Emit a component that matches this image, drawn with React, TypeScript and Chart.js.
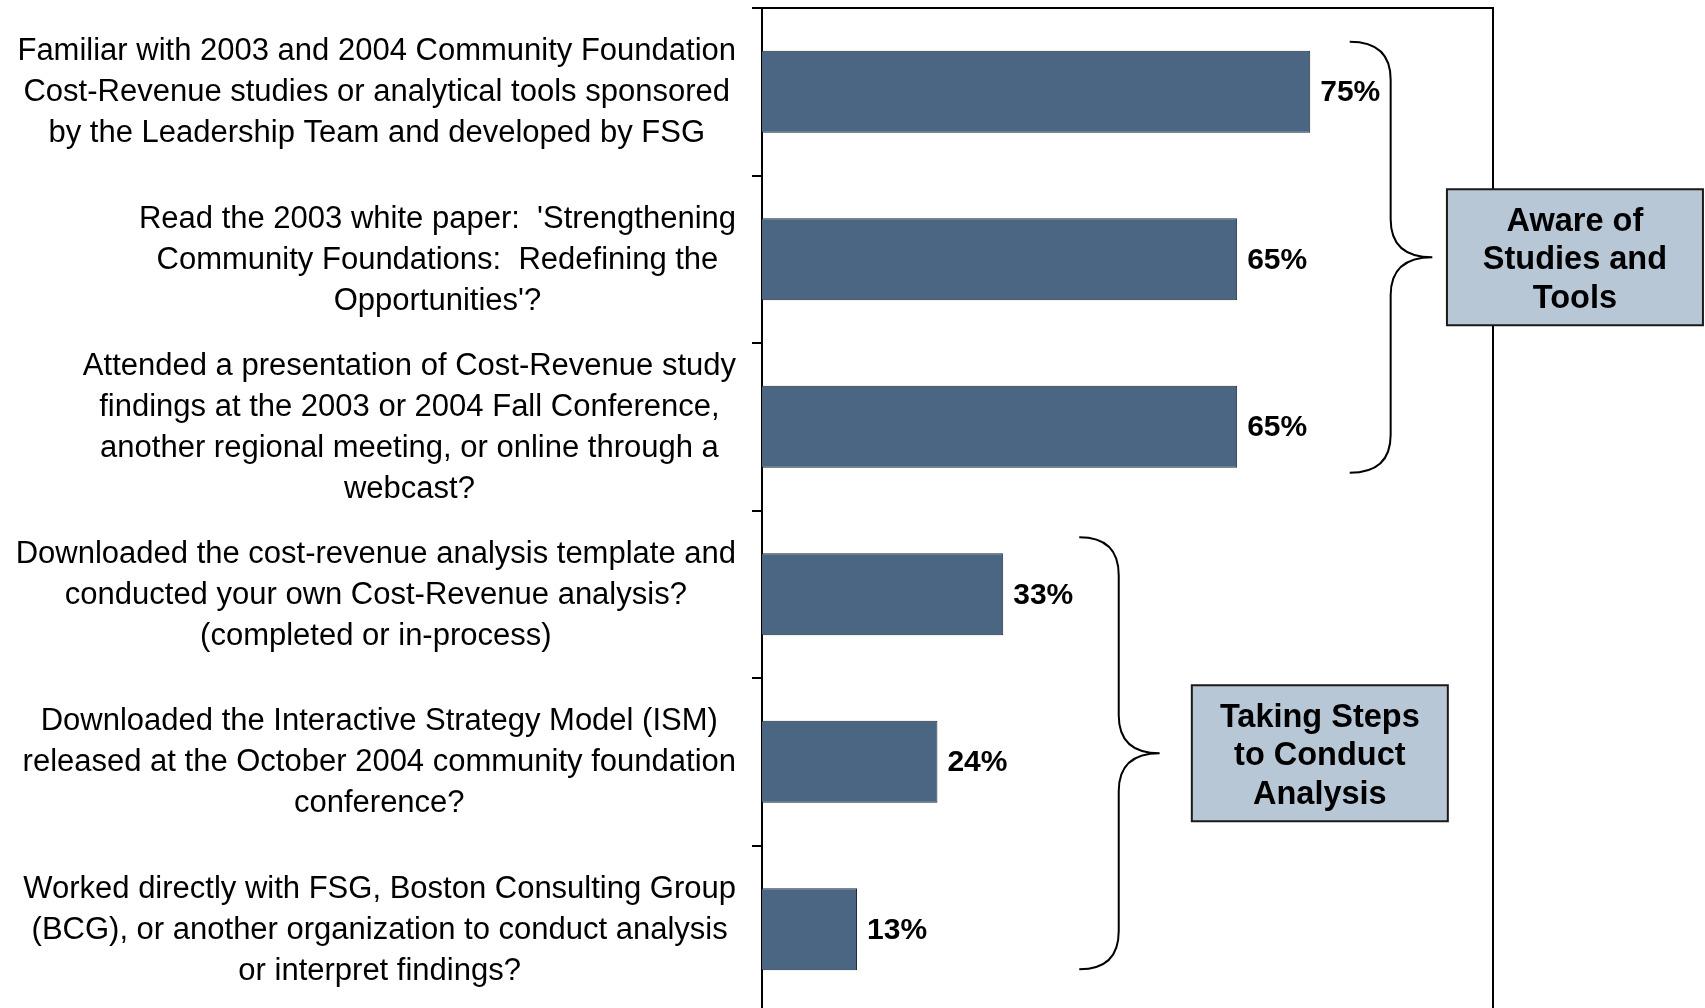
import React, { useEffect, useRef } from 'react';
import { Chart, registerables } from 'chart.js';

Chart.register(...registerables);

const categories: string[][] = [
  ['Familiar with 2003 and 2004 Community Foundation', 'Cost-Revenue studies or analytical tools sponsored', 'by the Leadership Team and developed by FSG'],
  ["Read the 2003 white paper:  'Strengthening", 'Community Foundations:  Redefining the', "Opportunities'?"],
  ['Attended a presentation of Cost-Revenue study', 'findings at the 2003 or 2004 Fall Conference,', 'another regional meeting, or online through a', 'webcast?'],
  ['Downloaded the cost-revenue analysis template and', 'conducted your own Cost-Revenue analysis?', '(completed or in-process)'],
  ['Downloaded the Interactive Strategy Model (ISM)', 'released at the October 2004 community foundation', 'conference?'],
  ['Worked directly with FSG, Boston Consulting Group', '(BCG), or another organization to conduct analysis', 'or interpret findings?'],
];

const values: number[] = [75, 65, 65, 33, 24, 13];

const groupLabels: string[][] = [
  ['Aware of', 'Studies and', 'Tools'],
  ['Taking Steps', 'to Conduct', 'Analysis'],
];

const groupFirst: number[] = [0, 3];
const groupLast: number[] = [2, 5];

const FONT = '"Liberation Sans", Arial, Helvetica, sans-serif';

// decorative layout for braces and callout boxes (x in axis units, y offsets in px)
const braceLayout = [
  { arm: 80.4, line: 86.0, tip: 91.7, topOff: 50, botOff: 46, boxLeft: 93.7 },
  { arm: 43.4, line: 48.8, tip: 54.4, topOff: 57, botOff: 40, boxLeft: 58.8 },
];

const annotPlugin = {
  id: 'annot',
  afterDraw(chart: any) {
    const ctx: CanvasRenderingContext2D = chart.ctx;
    const { left, right, top, bottom } = chart.chartArea;
    const xs = chart.scales.x;
    const ys = chart.scales.y;
    ctx.save();

    // frame: top and right
    ctx.strokeStyle = '#000';
    ctx.lineWidth = 2;
    ctx.beginPath();
    ctx.moveTo(left, top);
    ctx.lineTo(right, top);
    ctx.lineTo(right, bottom + 10);
    ctx.stroke();

    // category labels
    ctx.fillStyle = '#000';
    ctx.font = `31px ${FONT}`;
    ctx.textBaseline = 'middle';
    ctx.textAlign = 'center';
    const lh = 41;
    const blockRight = left - 26;
    categories.forEach((lines, i) => {
      const cy = ys.getPixelForValue(i) + 1;
      const widest = Math.max(...lines.map((l) => ctx.measureText(l).width));
      const cx = blockRight - widest / 2;
      const y0 = cy - ((lines.length - 1) * lh) / 2;
      lines.forEach((l, k) => ctx.fillText(l, cx, y0 + k * lh));
    });

    // value labels
    ctx.font = `bold 30px ${FONT}`;
    ctx.textAlign = 'left';
    values.forEach((v, i) => {
      ctx.fillText(`${v}%`, xs.getPixelForValue(v) + 10, ys.getPixelForValue(i) + 1);
    });

    // braces and boxes
    braceLayout.forEach((b, g) => {
      const yTop = ys.getPixelForValue(groupFirst[g]) - b.topOff;
      const yBot = ys.getPixelForValue(groupLast[g]) + b.botOff;
      const yMid = (yTop + yBot) / 2;
      const xa = xs.getPixelForValue(b.arm);
      const xl = xs.getPixelForValue(b.line);
      const xt = xs.getPixelForValue(b.tip);
      const r = 38;
      ctx.strokeStyle = '#000';
      ctx.lineWidth = 2;
      ctx.beginPath();
      ctx.moveTo(xa, yTop);
      ctx.quadraticCurveTo(xl, yTop, xl, yTop + r);
      ctx.lineTo(xl, yMid - r);
      ctx.quadraticCurveTo(xl, yMid, xt, yMid);
      ctx.quadraticCurveTo(xl, yMid, xl, yMid + r);
      ctx.lineTo(xl, yBot - r);
      ctx.quadraticCurveTo(xl, yBot, xa, yBot);
      ctx.stroke();

      const bw = 256;
      const bh = 136;
      const bx = xs.getPixelForValue(b.boxLeft);
      const by = yMid - bh / 2;
      ctx.fillStyle = '#B8C7D6';
      ctx.fillRect(bx, by, bw, bh);
      ctx.strokeStyle = '#1a1a1a';
      ctx.lineWidth = 2;
      ctx.strokeRect(bx, by, bw, bh);
      ctx.fillStyle = '#000';
      ctx.font = `bold 32.5px ${FONT}`;
      ctx.textAlign = 'center';
      const lines = groupLabels[g];
      const glh = 38.5;
      const gy0 = yMid + 3 - ((lines.length - 1) * glh) / 2;
      lines.forEach((l, k) => ctx.fillText(l, bx + bw / 2, gy0 + k * glh));
    });

    ctx.restore();
  },
};

export default function App() {
  const ref = useRef<HTMLCanvasElement | null>(null);
  useEffect(() => {
    if (!ref.current) return;
    const chart = new Chart(ref.current, {
      type: 'bar',
      data: {
        labels: categories,
        datasets: [
          {
            data: values,
            backgroundColor: '#4A6682',
            borderColor: '#1f2a36',
            borderWidth: 1,
            barPercentage: 0.49,
            categoryPercentage: 1,
          },
        ],
      },
      options: {
        indexAxis: 'y',
        responsive: false,
        animation: false,
        layout: { padding: { top: 8, right: 212, bottom: 0, left: 0 } },
        plugins: { legend: { display: false }, tooltip: { enabled: false } },
        scales: {
          x: { display: false, min: 0, max: 100 },
          y: {
            grid: {
              offset: true,
              drawOnChartArea: false,
              drawTicks: true,
              tickLength: 10,
              color: '#000',
              lineWidth: 2,
            },
            border: { display: true, color: '#000', width: 2 },
            ticks: { display: false },
            afterFit: (s: any) => {
              s.width = 762;
            },
          },
        },
      },
      plugins: [annotPlugin],
    } as any);
    return () => chart.destroy();
  }, []);
  return (
    <div style={{ position: 'fixed', left: 0, top: 0, width: 1705, height: 1008, overflow: 'hidden', background: '#fff' }}>
      <canvas ref={ref} width={1705} height={1013} style={{ display: 'block', width: 1705, height: 1013 }} />
    </div>
  );
}
